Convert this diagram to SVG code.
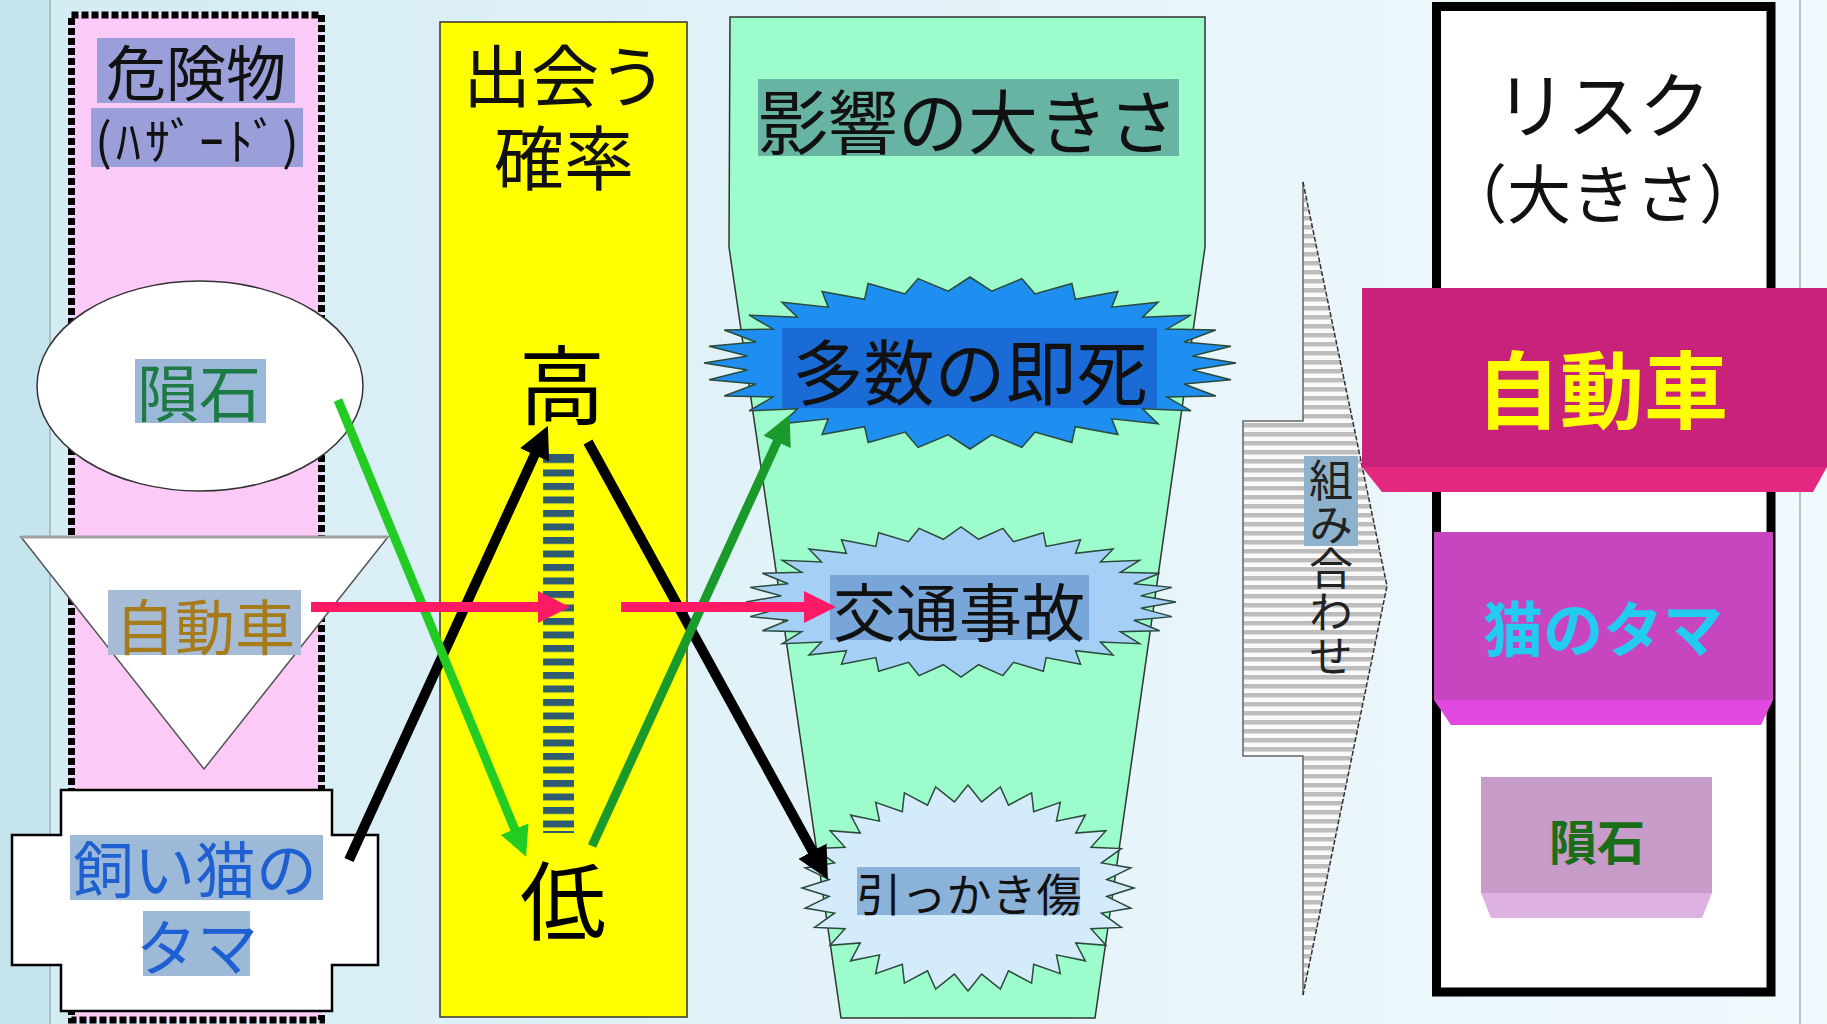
<svg xmlns="http://www.w3.org/2000/svg" xmlns:xlink="http://www.w3.org/1999/xlink" width="1827" height="1024" viewBox="0 0 1827 1024">
<style>
.jp{font-family:"Noto Sans CJK JP","Noto Sans CJK SC",sans-serif;}
.c{text-anchor:middle;dominant-baseline:central;}
.b{font-weight:bold;}
.thin{stroke:#333;stroke-width:1.5;}
.burst{stroke:#2a4a3a;stroke-width:1.5;}
</style>
<defs>
<linearGradient id="bg" x1="0" y1="0" x2="1" y2="0">
<stop offset="0" stop-color="#d3ebf3"/>
<stop offset="0.5" stop-color="#e4f3f9"/>
<stop offset="1" stop-color="#f0f9fc"/>
</linearGradient>
<pattern id="bars" patternUnits="userSpaceOnUse" x="543" y="456" width="40" height="13.5">
<rect x="0" y="0" width="40" height="7" fill="#2e5a72"/>
</pattern>
<pattern id="hstripe" patternUnits="userSpaceOnUse" x="0" y="0" width="20" height="9">
<rect x="0" y="0" width="20" height="9" fill="#fafafa"/>
<rect x="0" y="0" width="20" height="4.5" fill="#bdbdbd"/>
</pattern>
<polygon id="burst" vector-effect="non-scaling-stroke" points="100,0 83.6,8.2 98.1,19.5 80.4,24.4 92.4,38.3 74.1,39.6 83.1,55.6 64.9,53.3 70.7,70.7 53.3,64.9 55.6,83.1 39.6,74.1 38.3,92.4 24.4,80.4 19.5,98.1 8.2,83.6 0,100 -8.2,83.6 -19.5,98.1 -24.4,80.4 -38.3,92.4 -39.6,74.1 -55.6,83.1 -53.3,64.9 -70.7,70.7 -64.9,53.3 -83.1,55.6 -74.1,39.6 -92.4,38.3 -80.4,24.4 -98.1,19.5 -83.6,8.2 -100,0 -83.6,-8.2 -98.1,-19.5 -80.4,-24.4 -92.4,-38.3 -74.1,-39.6 -83.1,-55.6 -64.9,-53.3 -70.7,-70.7 -53.3,-64.9 -55.6,-83.1 -39.6,-74.1 -38.3,-92.4 -24.4,-80.4 -19.5,-98.1 -8.2,-83.6 0,-100 8.2,-83.6 19.5,-98.1 24.4,-80.4 38.3,-92.4 39.6,-74.1 55.6,-83.1 53.3,-64.9 70.7,-70.7 64.9,-53.3 83.1,-55.6 74.1,-39.6 92.4,-38.3 80.4,-24.4 98.1,-19.5 83.6,-8.2"/>
<marker id="ahBlack" markerUnits="userSpaceOnUse" markerWidth="34" markerHeight="32" refX="1" refY="16" orient="auto"><path d="M0,0 L32,16 L0,32 z" fill="#000"/></marker>
<marker id="ahGreen" markerUnits="userSpaceOnUse" markerWidth="32" markerHeight="30" refX="1" refY="15" orient="auto"><path d="M0,0 L30,15 L0,30 z" fill="#22cc22"/></marker>
<marker id="ahDkGreen" markerUnits="userSpaceOnUse" markerWidth="32" markerHeight="30" refX="1" refY="15" orient="auto"><path d="M0,0 L30,15 L0,30 z" fill="#1a9a2a"/></marker>
<marker id="ahPink" markerUnits="userSpaceOnUse" markerWidth="34" markerHeight="32" refX="1" refY="16" orient="auto"><path d="M0,0 L32,16 L0,32 z" fill="#ff1a66"/></marker>
</defs>

<g id="background">
<rect x="0" y="0" width="1827" height="1024" fill="url(#bg)"/>
<rect x="0" y="0" width="50" height="1024" fill="#c6e4ee"/>
<line x1="50" y1="0" x2="50" y2="1024" stroke="#9ab5bd" stroke-width="1.5"/>
<line x1="1800" y1="0" x2="1800" y2="1024" stroke="#9ab5bd" stroke-width="1.5"/>
</g>

<g id="hazard-column">
<rect x="71.5" y="15" width="250" height="1005" fill="#fccaf6" stroke="#000" stroke-width="7" stroke-dasharray="7 3"/>
<rect x="97" y="38" width="198" height="65" fill="#9b9fd9"/>
<rect x="91" y="108" width="212" height="59" fill="#9b9fd9"/>
<text class="jp c" fill="#111"><tspan x="196" y="69" font-size="60">危険物</tspan><tspan x="199" y="138" font-size="50" letter-spacing="4">(ﾊｻﾞｰﾄﾞ)</tspan></text>
</g>

<g id="meteor">
<ellipse cx="200" cy="386" rx="163" ry="105" fill="#fff" stroke="#333" stroke-width="1.5"/>
<rect x="135" y="359" width="131" height="64" fill="#9bb8d8"/>
<text class="jp c" x="199" y="390" font-size="62" fill="#1d7a45">隕石</text>
</g>

<g id="car">
<polygon points="21,537 388,537 204,769" fill="#fff" stroke="#555" stroke-width="1.5"/>
<line x1="21" y1="537" x2="388" y2="537" stroke="#a0a0a0" stroke-width="3"/>
<rect x="108" y="590" width="193" height="65" fill="#a6bcd6"/>
<text class="jp c" x="205" y="623" font-size="60" fill="#a67c1a">自動車</text>
</g>

<g id="cat">
<polygon points="61,790 332,790 332,835 378,835 378,965 332,965 332,1011 61,1011 61,965 12,965 12,835 61,835" fill="#fff" stroke="#000" stroke-width="2.5"/>
<rect x="70" y="835" width="253" height="65" fill="#9db9d8"/>
<rect x="143" y="911" width="107" height="65" fill="#9db9d8"/>
<text class="jp c" font-size="61" fill="#1e5fd2"><tspan x="195" y="866">飼い猫の</tspan><tspan x="197" y="944">タマ</tspan></text>
</g>

<g id="probability-column">
<rect x="440" y="22" width="247" height="995" fill="#ffff00" class="thin"/>
<text class="jp c" fill="#111"><tspan x="565" y="72" font-size="68">出会う</tspan><tspan x="564" y="154" font-size="70">確率</tspan></text>
<rect x="543" y="456" width="31" height="377" fill="url(#bars)"/>
<line x1="543" y1="455" x2="574" y2="455" stroke="#2e5a72" stroke-width="2"/>
<line x1="543" y1="832" x2="574" y2="832" stroke="#2e5a72" stroke-width="2"/>
</g>
<g id="high"><text class="jp c" x="562" y="380" font-size="86" fill="#000">高</text></g>
<g id="low"><text class="jp c" x="563" y="896" font-size="86" fill="#000">低</text></g>

<g id="impact-column">
<polygon points="730,17 1205,17 1205,247 1095,1018 841,1018 729,247" fill="#9dfccb" class="thin"/>
<rect x="758" y="79" width="421" height="77" fill="#68b4a4"/>
<text class="jp c" x="968" y="118" font-size="70" fill="#111">影響の大きさ</text>
</g>

<g id="burst-death">
<use xlink:href="#burst" href="#burst" class="burst" fill="#1e8ff0" transform="translate(970,363) scale(2.66,0.86)"/>
<rect x="782" y="328" width="375" height="80" fill="#1a6bd6"/>
<text class="jp c" x="970" y="368" font-size="71" fill="#111">多数の即死</text>
</g>

<g id="burst-accident">
<use xlink:href="#burst" href="#burst" class="burst" fill="#a6cff5" transform="translate(961,602) scale(2.15,0.75)"/>
<rect x="830" y="575" width="259" height="65" fill="#78a6d9"/>
<text class="jp c" x="959" y="608" font-size="63" fill="#111">交通事故</text>
</g>

<g id="burst-scratch">
<use xlink:href="#burst" href="#burst" class="burst" fill="#d4ebfb" transform="translate(968,888) scale(1.66,1.03)"/>
<rect x="857" y="867" width="223" height="48" fill="#8bb2d8"/>
<text class="jp c" x="969" y="892" font-size="45" fill="#111">引っかき傷</text>
</g>

<g id="combine-arrow">
<polygon points="1303,182 1387,586 1303,995 1303,756 1243,756 1243,421 1303,421" fill="url(#hstripe)"/>
<path d="M1303,995 V756 H1243 V421 H1303 V182" fill="none" stroke="#666" stroke-width="1.5"/>
<path d="M1303,182 L1387,586 L1303,995" fill="none" stroke="#333" stroke-width="1.5" stroke-dasharray="5 2"/>
<rect x="1304" y="456" width="54" height="90" fill="#8fb2cc"/>
<text class="jp" x="1331" y="568" font-size="44" fill="#222" text-anchor="middle" style="writing-mode:vertical-rl">組み合わせ</text>
</g>

<g id="risk-column">
<rect x="1436.5" y="6.5" width="334.5" height="985.5" fill="#fff" stroke="#000" stroke-width="9"/>
<text class="jp c" fill="#111"><tspan x="1603" y="100" font-size="72">リスク</tspan><tspan x="1603" y="190" font-size="64">（大きさ）</tspan></text>
</g>

<g id="risk-car">
<rect x="1362" y="288" width="465" height="179" fill="#c9227a"/>
<polygon points="1362,467 1827,467 1813,492 1382,492" fill="#e3287f"/>
<text class="jp c b" x="1602" y="385" font-size="84" fill="#ffff00">自動車</text>
</g>

<g id="risk-cat">
<rect x="1434" y="532" width="339" height="168" fill="#c845c0"/>
<polygon points="1434,700 1773,700 1761,725 1451,725" fill="#e048e0"/>
<text class="jp c b" x="1603" y="625" font-size="60" fill="#22ccf0">猫のタマ</text>
</g>

<g id="risk-meteor">
<rect x="1481" y="777" width="231" height="116" fill="#c89cc8"/>
<polygon points="1481,893 1712,893 1702,918 1491,918" fill="#ddb2e2"/>
<text class="jp c b" x="1597" y="839" font-size="48" fill="#1a6e1a">隕石</text>
</g>

<g id="connectors" fill="none">
<line x1="349" y1="860" x2="535" y2="454" stroke="#000" stroke-width="10" marker-end="url(#ahBlack)"/>
<line x1="588" y1="442" x2="813" y2="852" stroke="#000" stroke-width="10" marker-end="url(#ahBlack)"/>
<line x1="338" y1="400" x2="515" y2="830" stroke="#22cc22" stroke-width="9" marker-end="url(#ahGreen)"/>
<line x1="592" y1="846" x2="777.5" y2="441" stroke="#1a9a2a" stroke-width="9" marker-end="url(#ahDkGreen)"/>
<line x1="311" y1="607" x2="539" y2="607" stroke="#ff1a66" stroke-width="10" marker-end="url(#ahPink)"/>
<line x1="621" y1="607" x2="805" y2="607" stroke="#ff1a66" stroke-width="10" marker-end="url(#ahPink)"/>
</g>
</svg>
